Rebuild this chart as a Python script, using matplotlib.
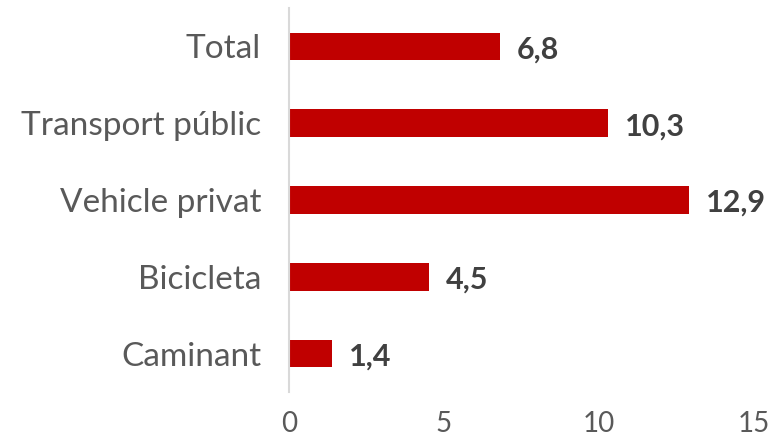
import matplotlib
matplotlib.use("Agg")
import matplotlib.pyplot as plt

categories = ["Total", "Transport públic", "Vehicle privat", "Bicicleta", "Caminant"]
values = [6.8, 10.3, 12.9, 4.5, 1.4]
value_labels = ["6,8", "10,3", "12,9", "4,5", "1,4"]
xticks = [0, 5, 10, 15]

fig = plt.figure(figsize=(7.74, 4.42), dpi=100)
ax = fig.add_axes([289 / 774, 1 - 392 / 442, (754 - 289) / 774, (392 - 8) / 442])

ypos = list(range(len(categories)))
ax.barh(ypos, values, height=0.36, color="#c00000")
ax.set_ylim(len(categories) - 0.5, -0.5)
ax.set_xlim(0, 15)

# etiquetes de valor
for y, v, lab in zip(ypos, values, value_labels):
    ax.text(v + 0.55, y + 0.04, lab, va="center", ha="left", fontsize=22,
            fontweight="bold", color="#404040", family="Lato")

ax.set_yticks(ypos)
ax.set_yticklabels(categories, fontsize=24, color="#595959", family="Lato")
ax.set_xticks(xticks)
ax.set_xticklabels([str(t) for t in xticks], fontsize=20, color="#595959", family="Lato")
ax.tick_params(axis="both", length=0)
ax.tick_params(axis="y", pad=20)
ax.tick_params(axis="x", pad=14)

for s in ["top", "right", "bottom"]:
    ax.spines[s].set_visible(False)
ax.spines["left"].set_color("#d9d9d9")
ax.spines["left"].set_linewidth(1.5)

fig.savefig("out.png", dpi=100)
